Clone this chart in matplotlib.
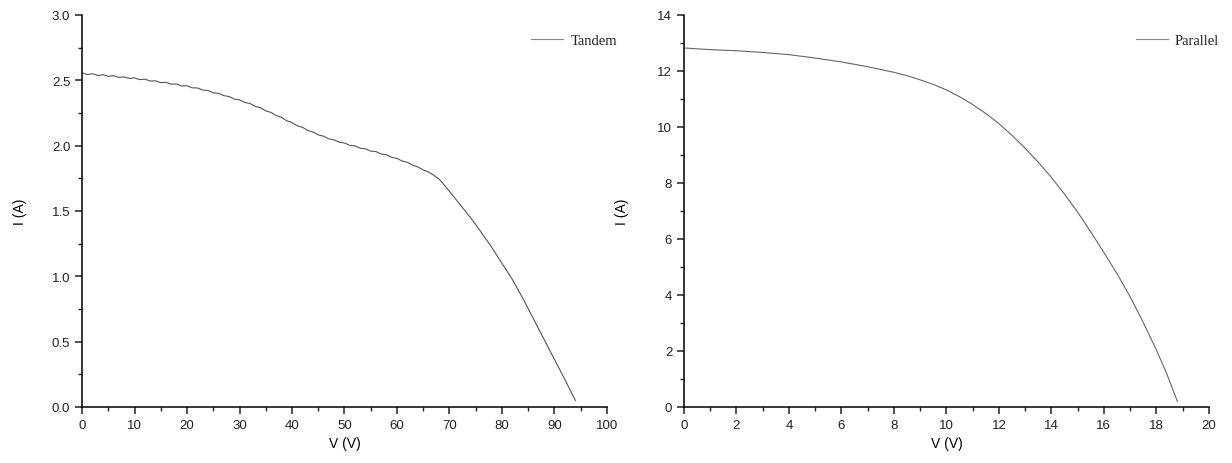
import matplotlib.pyplot as plt
from matplotlib.ticker import MultipleLocator

# Tandem I-V curve
v_tandem = [0, 1, 2, 3, 4, 5, 6, 7, 8, 9, 10, 11, 12, 13, 14, 15, 16, 17, 18, 19,
            20, 21, 22, 23, 24, 25, 26, 27, 28, 29, 30, 31, 32, 33, 34, 35, 36, 37, 38, 39,
            40, 41, 42, 43, 44, 45, 46, 47, 48, 49, 50, 51, 52, 53, 54, 55, 56, 57, 58, 59,
            60, 61, 62, 63, 64, 65, 66, 67, 68, 69, 70, 71, 72, 74, 76, 78, 80, 82, 84, 86,
            88, 90, 92, 94]
i_tandem = [2.556, 2.544, 2.550, 2.537, 2.542, 2.530, 2.535, 2.522, 2.526, 2.514,
            2.518, 2.505, 2.508, 2.494, 2.496, 2.482, 2.484, 2.470, 2.472, 2.456,
            2.458, 2.442, 2.441, 2.425, 2.422, 2.404, 2.400, 2.382, 2.376, 2.356,
            2.350, 2.330, 2.322, 2.300, 2.290, 2.266, 2.254, 2.230, 2.216, 2.190,
            2.176, 2.152, 2.140, 2.116, 2.104, 2.082, 2.072, 2.052, 2.044, 2.026,
            2.020, 2.002, 1.998, 1.980, 1.976, 1.958, 1.954, 1.936, 1.930, 1.910,
            1.902, 1.882, 1.872, 1.850, 1.836, 1.814, 1.798, 1.774, 1.745, 1.700,
            1.650, 1.600, 1.550, 1.450, 1.340, 1.225, 1.100, 0.975, 0.830, 0.675,
            0.520, 0.365, 0.210, 0.050]

# Parallel I-V curve
v_parallel = [0, 1, 2, 3, 4, 5, 6, 7, 8, 8.5, 9, 9.5, 10, 10.5, 11, 11.5, 12, 12.5,
              13, 13.5, 14, 14.5, 15, 15.5, 16, 16.5, 17, 17.5, 18, 18.4, 18.8]
i_parallel = [12.82, 12.76, 12.72, 12.66, 12.58, 12.46, 12.32, 12.15, 11.95, 11.83,
              11.68, 11.52, 11.32, 11.08, 10.80, 10.48, 10.12, 9.70, 9.24, 8.74,
              8.20, 7.60, 6.96, 6.25, 5.52, 4.76, 3.94, 3.02, 2.04, 1.18, 0.20]

plt.rcParams['font.family'] = ['Liberation Sans', 'DejaVu Sans']

fig = plt.figure(figsize=(12.32, 4.64), dpi=100)
ax1 = fig.add_axes([0.0666, 0.1207, 0.426, 0.845])
ax2 = fig.add_axes([0.5552, 0.1207, 0.426, 0.845])

ax1.plot(v_tandem, i_tandem, color='#555555', lw=0.8, label='Tandem')
ax2.plot(v_parallel, i_parallel, color='#666666', lw=0.8, label='Parallel')

ax1.set_xlim(0, 100)
ax1.set_ylim(0, 3.0)
ax1.xaxis.set_major_locator(MultipleLocator(10))
ax1.xaxis.set_minor_locator(MultipleLocator(5))
ax1.yaxis.set_major_locator(MultipleLocator(0.5))
ax1.yaxis.set_minor_locator(MultipleLocator(0.25))
ax1.yaxis.set_major_formatter(plt.FormatStrFormatter('%.1f'))

ax2.set_xlim(0, 20)
ax2.set_ylim(0, 14)
ax2.xaxis.set_major_locator(MultipleLocator(2))
ax2.xaxis.set_minor_locator(MultipleLocator(1))
ax2.yaxis.set_major_locator(MultipleLocator(2))
ax2.yaxis.set_minor_locator(MultipleLocator(1))

for ax in (ax1, ax2):
    ax.spines['top'].set_visible(False)
    ax.spines['right'].set_visible(False)
    ax.spines['left'].set_linewidth(1.1)
    ax.spines['bottom'].set_linewidth(1.1)
    ax.tick_params(which='major', direction='out', length=5, width=1.1, labelsize=9.5, colors='#222222')
    ax.tick_params(which='minor', direction='out', length=3, width=1.0, colors='#222222')
    ax.set_xlabel('V (V)', fontsize=10, labelpad=4)
    ax.set_ylabel('I (A)', fontsize=10)
    ax.yaxis.set_label_coords(-0.105, 0.5)
    leg = ax.legend(loc='upper right', bbox_to_anchor=(1.045, 0.985), frameon=False,
                    handlelength=2.2, handletextpad=0.5,
                    prop={'family': 'Liberation Serif', 'size': 10.5})
    leg.get_lines()[0].set_color('#888888')
    for t in leg.get_texts():
        t.set_color('#222222')

fig.savefig('out.png', dpi=100)
